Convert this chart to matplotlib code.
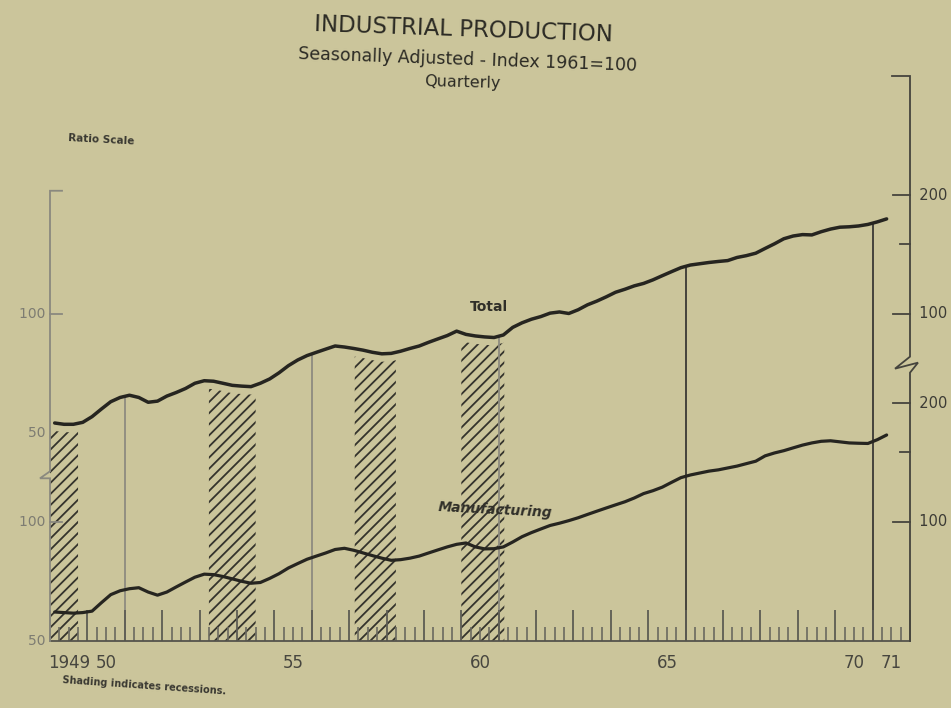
import numpy as np
import matplotlib
matplotlib.use("Agg")
import matplotlib.pyplot as plt
from matplotlib.lines import Line2D
from matplotlib.transforms import IdentityTransform
from matplotlib.ticker import NullLocator

# ---------------- data (quarterly, 1949 Q1 .. 1971 Q2, index 1961=100) ----------------
total = [
    53.0, 52.6, 52.6, 53.2,    # 1949
    55.0, 57.5, 60.0, 61.5,    # 1950
    62.3, 61.5, 59.8, 60.2,    # 1951
    62.0, 63.3, 64.8, 66.8,    # 1952
    67.8, 67.6, 66.8, 66.0,    # 1953
    65.7, 65.5, 66.8, 68.5,    # 1954
    71.0, 74.0, 76.5, 78.5,    # 1955
    80.0, 81.5, 83.0, 82.5,    # 1956
    81.8, 81.0, 80.0, 79.3,    # 1957
    79.5, 80.5, 81.8, 83.0,    # 1958
    84.8, 86.5, 88.2, 90.5,    # 1959
    88.8, 88.0, 87.5, 87.2,    # 1960
    88.5, 92.5, 95.0, 97.0,    # 1961
    98.5, 100.5, 101.2, 100.3, # 1962
    102.5, 105.5, 107.8, 110.5,# 1963
    113.5, 115.5, 117.8, 119.5,# 1964
    122.0, 125.0, 128.0, 131.0,# 1965
    133.0, 134.0, 135.0, 135.8,# 1966
    136.5, 139.0, 140.5, 142.5,# 1967
    146.5, 150.5, 155.0, 157.5,# 1968
    158.8, 158.5, 161.5, 164.0,# 1969
    165.8, 166.2, 167.0, 168.5,# 1970
    171.0, 174.0,              # 1971
]
manufacturing = [
    59.2, 59.0, 58.8, 59.0,    # 1949
    59.5, 62.5, 65.5, 67.0,    # 1950
    67.8, 68.2, 66.5, 65.3,    # 1951
    66.5, 68.5, 70.5, 72.5,    # 1952
    73.8, 73.6, 72.8, 71.8,    # 1953
    70.8, 70.0, 70.3, 72.0,    # 1954
    74.0, 76.5, 78.5, 80.5,    # 1955
    82.0, 83.5, 85.2, 85.8,    # 1956
    84.8, 83.5, 82.2, 81.0,    # 1957
    80.0, 80.3, 81.0, 82.0,    # 1958
    83.5, 85.0, 86.5, 87.8,    # 1959
    88.5, 86.5, 85.5, 85.6,    # 1960
    86.5, 89.0, 91.8, 94.0,    # 1961
    96.0, 98.0, 99.3, 100.8,   # 1962
    102.5, 104.5, 106.5, 108.5,# 1963
    110.5, 112.5, 115.0, 118.0,# 1964
    120.0, 122.5, 126.0, 129.5,# 1965
    131.5, 133.0, 134.5, 135.5,# 1966
    137.0, 138.5, 140.5, 142.5,# 1967
    147.0, 149.5, 151.5, 154.0,# 1968
    156.5, 158.5, 160.0, 160.5,# 1969
    159.5, 158.5, 158.2, 158.0,# 1970
    161.5, 166.0,              # 1971
]
quarter_time = 1949 + (np.arange(len(total)) + 0.5) / 4.0

recession_start = [1949.0, 1953.25, 1957.15, 1960.0]
recession_end = [1949.75, 1954.5, 1958.25, 1961.15]
divider_years = [1951, 1956, 1961, 1966, 1971]

xlabel_years = [1949, 1950, 1955, 1960, 1965, 1970, 1971]
xlabel_text = ["1949", "50", "55", "60", "65", "70", "71"]

right_ticks = [100, 150, 200]
right_labels = {100: "100", 200: "200"}
left_labels_total = [100, 50]
left_labels_mfg = [100, 50]

# ---------------- style ----------------
BG = "#cbc59b"
INK = "#262520"
HATCH = "#34332c"
GRID_LIGHT = "#8d8b80"
GRID_DARK = "#3a3934"
plt.rcParams["font.family"] = ["DejaVu Sans"]
plt.rcParams["hatch.linewidth"] = 1.3

W, H = 951, 708
fig = plt.figure(figsize=(W / 100, H / 100), dpi=100, facecolor=BG)

def fx(px):
    return px / W

def fy(py):
    return 1 - py / H

AX_L, AX_R, AX_T, AX_B = 50, 910, 76, 641
PPD = 119.0  # pixels per doubling (ratio scale)
ndbl = (AX_B - AX_T) / PPD
rect = [fx(AX_L), fy(AX_B), (AX_R - AX_L) / W, (AX_B - AX_T) / H]

ax_t = fig.add_axes(rect)
ax_m = fig.add_axes(rect)
for ax in (ax_t, ax_m):
    ax.set_facecolor("none")
    ax.set_yscale("log")
    ax.yaxis.set_major_locator(NullLocator())
    ax.yaxis.set_minor_locator(NullLocator())
    ax.set_xlim(1949, 1972)
    for s in ax.spines.values():
        s.set_visible(False)

ax_t.set_ylim(400 / 2 ** ndbl, 400)
ax_m.set_ylim(50, 50 * 2 ** ndbl)
ylo_t = ax_t.get_ylim()[0]

# recession hatching (bottom axis up to just under the Total curve)
for s, e in zip(recession_start, recession_end):
    xs = np.linspace(s, e, 40)
    top = np.interp(xs, quarter_time, total) * 0.955
    ax_t.fill_between(xs, ylo_t, top, facecolor="none", edgecolor=HATCH,
                      hatch="///", linewidth=0, zorder=2)

# five-year dividers dropping from the Total curve
for yr in divider_years:
    top = np.interp(yr, quarter_time, total)
    col = GRID_DARK if yr >= 1966 else GRID_LIGHT
    ax_t.vlines(yr, ylo_t, top, color=col, lw=1.3, zorder=3)

# series
ax_t.plot(quarter_time, total, color=INK, lw=2.5, solid_joinstyle="round",
          solid_capstyle="round", zorder=6)
ax_m.plot(quarter_time, manufacturing, color=INK, lw=2.3, solid_joinstyle="round",
          solid_capstyle="round", zorder=6)

# x axis: bottom line with year / quarter ticks pointing up
ax_m.spines["bottom"].set_visible(True)
ax_m.spines["bottom"].set_color("#55544c")
ax_m.spines["bottom"].set_linewidth(1.3)
ax_m.set_xticks(np.arange(1949, 1973))
ax_m.set_xticks(np.arange(1949, 1972.01, 0.25), minor=True)
ax_m.tick_params(axis="x", which="major", direction="in", length=22, width=1.3,
                 color="#5d5c54", labelbottom=False)
ax_m.tick_params(axis="x", which="minor", direction="in", length=10, width=1.2,
                 color="#6a695f")
ax_m.tick_params(axis="y", which="both", left=False, right=False)

ax_t.set_xticks([y + 0.5 for y in xlabel_years], labels=xlabel_text)
ax_t.xaxis.set_minor_locator(NullLocator())
ax_t.tick_params(axis="x", which="major", length=0, pad=9, labelsize=12,
                 labelcolor="#47463f")
ax_t.tick_params(axis="y", which="both", left=False, right=False)

# ---------------- hand-drawn axes (ratio scales with breaks) ----------------
def disp(ax, xfrac, val, dx=0, dy=0):
    x, y = ax.get_yaxis_transform().transform((xfrac, val))
    return x + dx, y + dy

def poly(points, color, lw):
    xs = [p[0] for p in points]
    ys = [p[1] for p in points]
    fig.add_artist(Line2D(xs, ys, transform=IdentityTransform(), color=color,
                          lw=lw, solid_joinstyle="miter", zorder=8))

LEFT_COL = "#8a897f"
RIGHT_COL = "#45443d"

# left axis
brk = disp(ax_t, 0, 40)
poly([disp(ax_t, 0, 205, 12, 0), disp(ax_t, 0, 205), brk,
      (brk[0] - 10, brk[1] - 7), (brk[0], brk[1] - 7), disp(ax_m, 0, 50)],
     LEFT_COL, 1.3)
poly([disp(ax_t, 0, 100), disp(ax_t, 0, 100, 12, 0)], LEFT_COL, 1.3)
poly([disp(ax_m, 0, 100), disp(ax_m, 0, 100, 12, 0)], LEFT_COL, 1.3)
for v in left_labels_total:
    ax_t.text(0, v, str(v) + " ", transform=ax_t.get_yaxis_transform(), ha="right",
              va="center", fontsize=10, color="#7d7c72")
for v in left_labels_mfg:
    ax_m.text(0, v, str(v) + " ", transform=ax_m.get_yaxis_transform(), ha="right",
              va="center", fontsize=10, color="#7d7c72")

# right axis
rb = disp(ax_t, 1, 78)
poly([disp(ax_t, 1, 400, -18, 0), disp(ax_t, 1, 400), rb,
      (rb[0] - 15, rb[1] - 12), (rb[0] + 8, rb[1] - 6), (rb[0], rb[1] - 16),
      disp(ax_m, 1, 50)], RIGHT_COL, 1.3)
for ax in (ax_t, ax_m):
    for v in right_ticks:
        ln = 10 if v == 150 else 17
        poly([disp(ax, 1, v, -ln, 0), disp(ax, 1, v)], RIGHT_COL, 1.3)
        if v in right_labels:
            ax.text(1.0, v, "  " + right_labels[v], transform=ax.get_yaxis_transform(),
                    ha="left", va="center", fontsize=10.5, color="#3c3b35")

# ---------------- texts ----------------
ax_t.text(1960.75, 104, "Total", ha="center", va="center", fontsize=10,
          fontweight="bold", color="#302f29", zorder=7)
ax_m.text(1960.9, 107, "Manufacturing", ha="center", va="center", fontsize=10,
          fontweight="bold", style="italic", color="#302f29", rotation=-3, zorder=7)

fig.text(fx(464), fy(30), "INDUSTRIAL PRODUCTION", ha="center", va="center",
         fontsize=16.5, color="#2b2a24", rotation=-2)
fig.text(fx(468), fy(60), "Seasonally Adjusted - Index 1961=100", ha="center",
         va="center", fontsize=12.5, color="#2b2a24", rotation=-2)
fig.text(fx(462), fy(83), "Quarterly", ha="center", va="center", fontsize=11.5,
         color="#2b2a24", rotation=-1.5)
fig.text(fx(68), fy(140), "Ratio Scale", ha="left", va="center", fontsize=7.5,
         fontweight="bold", color="#3a3932", rotation=-3)
fig.text(fx(62), fy(686), "Shading indicates recessions.", ha="left", va="center",
         fontsize=7, fontweight="bold", color="#3a3932", rotation=-4)

fig.savefig("out.png", dpi=100, facecolor=BG)
